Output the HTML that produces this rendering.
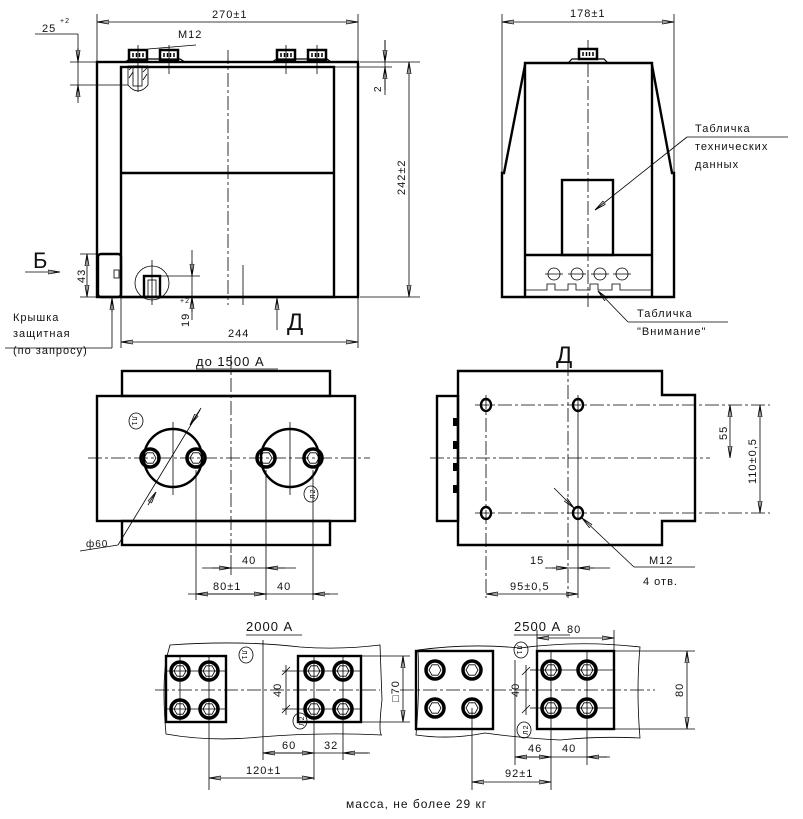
<!DOCTYPE html>
<html><head><meta charset="utf-8"><style>
html,body{margin:0;padding:0;background:#fff;width:803px;height:819px;overflow:hidden}
svg{display:block}
text{font-family:"Liberation Sans","DejaVu Sans",sans-serif;fill:#111;letter-spacing:1px}
.t{stroke:#000;stroke-width:2.4;fill:none}
.n{stroke:#000;stroke-width:0.8;fill:none}
.c{stroke:#000;stroke-width:0.8;fill:none;stroke-dasharray:14 3 3 3}
.b{stroke:#000;stroke-width:3.5;fill:none}
</style></head><body>
<svg width="803" height="819" viewBox="0 0 803 819" xmlns="http://www.w3.org/2000/svg">
<defs>
<marker id="a" viewBox="0 0 12 6" refX="12" refY="3" markerWidth="12" markerHeight="6" orient="auto-start-reverse" markerUnits="userSpaceOnUse"><path d="M0,1 L12,3 L0,5 Z" fill="none" stroke="#000" stroke-width="0.8"/></marker>
<g id="bolt"><circle r="9" class="b"/><polygon points="-6,0 -3,-5.2 3,-5.2 6,0 3,5.2 -3,5.2" class="n"/></g>
<g id="nut"><rect x="-9" y="-5" width="18" height="10" fill="#fff" stroke="#000" stroke-width="2.5"/><path d="M-5,-2v4M-1.5,-2v4M1.5,-2v4M5,-2v4" stroke="#000" stroke-width="1.5"/></g>
</defs>

<!-- ========== TOP LEFT VIEW ========== -->
<rect x="97" y="62" width="261" height="235" class="t"/>
<rect x="121" y="67" width="213" height="230" class="t"/>
<line x1="121" y1="173" x2="334" y2="173" class="t"/>
<rect x="98" y="254" width="23" height="43" class="t" rx="3" fill="#fff"/>
<line x1="228" y1="50" x2="228" y2="305" class="c"/>
<line x1="243" y1="265" x2="243" y2="305" class="n"/>
<use href="#nut" x="138" y="55"/><use href="#nut" x="169" y="55"/><use href="#nut" x="286" y="55"/><use href="#nut" x="317" y="55"/>
<path d="M125,62 L130,59 L180,59 L185,62 M272,62 L277,59 L327,59 L331,62" stroke="#000" stroke-width="1.2" fill="none"/>
<line x1="138" y1="45" x2="138" y2="92" class="n"/><line x1="169" y1="45" x2="169" y2="74" class="n"/>
<line x1="286" y1="45" x2="286" y2="74" class="n"/><line x1="317" y1="45" x2="317" y2="74" class="n"/>
<path d="M128,66 L128,85 Q138,97 148,85 L148,66 Z" class="n"/>
<rect x="133" y="66" width="9" height="20" class="n"/>
<path d="M129,70 L133,66 M129,78 L133,72 M143,72 L147,68 M143,80 L147,74" class="n"/>
<circle cx="152" cy="283" r="17" class="n"/>
<rect x="144" y="276" width="16" height="21" class="t" stroke-width="1.5"/>
<rect x="148" y="280" width="8" height="17" class="n"/>
<line x1="152" y1="260" x2="152" y2="305" class="n"/>
<rect x="114" y="270" width="5" height="8" class="n"/>
<line x1="97" y1="14" x2="97" y2="62" class="n"/><line x1="358" y1="14" x2="358" y2="62" class="n"/>
<line x1="97" y1="22" x2="358" y2="22" class="n" marker-start="url(#a)" marker-end="url(#a)"/>
<text x="212" y="18" font-size="11">270±1</text>
<text x="178" y="38" font-size="11">M12</text>
<line x1="148" y1="49" x2="196" y2="45" class="n"/>
<line x1="35" y1="34" x2="78" y2="34" class="n"/><line x1="78" y1="34" x2="78" y2="103" class="n"/>
<line x1="70" y1="62" x2="97" y2="62" class="n"/><line x1="70" y1="85" x2="128" y2="85" class="n"/>
<line x1="78" y1="48" x2="78" y2="62" class="n" marker-end="url(#a)"/><line x1="78" y1="99" x2="78" y2="85" class="n" marker-end="url(#a)"/>
<text x="42" y="32" font-size="11">25</text><text x="60" y="23" font-size="7">+2</text>
<line x1="360" y1="62" x2="420" y2="62" class="n"/><line x1="360" y1="297" x2="420" y2="297" class="n"/>
<line x1="334" y1="67" x2="392" y2="67" class="n"/>
<line x1="385" y1="40" x2="385" y2="95" class="n"/>
<line x1="385" y1="40" x2="385" y2="62" class="n" marker-end="url(#a)"/><line x1="385" y1="90" x2="385" y2="67" class="n" marker-end="url(#a)"/>
<text x="381" y="92" font-size="10" transform="rotate(-90 381 92)">2</text>
<line x1="409" y1="62" x2="409" y2="297" class="n" marker-start="url(#a)" marker-end="url(#a)"/>
<text x="405" y="195" font-size="11" transform="rotate(-90 405 195)">242±2</text>
<line x1="80" y1="254" x2="98" y2="254" class="n"/><line x1="80" y1="297" x2="150" y2="297" class="n"/>
<line x1="87" y1="254" x2="87" y2="297" class="n" marker-start="url(#a)" marker-end="url(#a)"/>
<text x="85" y="283" font-size="11" transform="rotate(-90 85 283)">43</text>
<text x="33" y="268" font-size="22">Б</text>
<line x1="25" y1="272" x2="60" y2="272" class="n" marker-end="url(#a)"/>
<line x1="192" y1="250" x2="192" y2="320" class="n"/><line x1="160" y1="276" x2="200" y2="276" class="n"/>
<line x1="192" y1="262" x2="192" y2="276" class="n" marker-end="url(#a)"/><line x1="192" y1="312" x2="192" y2="297" class="n" marker-end="url(#a)"/>
<text x="189" y="327" font-size="11" transform="rotate(-90 189 327)">19</text><text x="180" y="303" font-size="7">+2</text>
<line x1="121" y1="297" x2="121" y2="348" class="n"/><line x1="358" y1="297" x2="358" y2="348" class="n"/>
<line x1="121" y1="342" x2="358" y2="342" class="n" marker-start="url(#a)" marker-end="url(#a)"/>
<text x="228" y="337" font-size="11">244</text>
<line x1="277" y1="330" x2="277" y2="298" class="n" marker-end="url(#a)"/>
<text x="287" y="330" font-size="24">Д</text>
<line x1="112" y1="298" x2="112" y2="348" class="n"/><line x1="112" y1="298" x2="112" y2="312" class="n" marker-start="url(#a)"/>
<line x1="5" y1="348" x2="112" y2="348" class="n"/>
<text x="13" y="321" font-size="11">Крышка</text>
<text x="13" y="337" font-size="11">защитная</text>
<text x="13" y="354" font-size="11">(по запросу)</text>

<!-- ========== TOP RIGHT VIEW ========== -->
<path d="M525,63 L652,63 L652,297 L525,297 Z" class="t"/>
<path d="M525,65 L504,173 L502,173 L502,297 L525,297 M652,65 L672,173 L674,173 L674,297 L652,297" class="t"/>
<line x1="525" y1="255" x2="652" y2="255" class="t"/>
<rect x="562" y="180" width="51" height="75" class="t"/>
<line x1="588" y1="40" x2="588" y2="310" class="c"/>
<use href="#nut" x="588" y="54"/>
<path d="M568,63 L572,59 L604,59 L608,63" stroke="#000" stroke-width="1.2" fill="none"/>
<g class="n"><circle cx="554" cy="274" r="6"/><circle cx="577" cy="274" r="6"/><circle cx="600" cy="274" r="6"/><circle cx="622" cy="274" r="6"/>
<path d="M545,274h18M568,274h18M591,274h18M613,274h18"/></g>
<path d="M525,290 L547,290 L547,284 L555,284 L555,290 L568,290 L568,284 L576,284 L576,290 L590,290 L590,284 L598,284 L598,290 L612,290 L612,284 L620,284 L620,290 L652,290" class="n" stroke-width="1.5"/>
<line x1="502" y1="14" x2="502" y2="173" class="n"/><line x1="674" y1="14" x2="674" y2="173" class="n"/>
<line x1="502" y1="22" x2="674" y2="22" class="n" marker-start="url(#a)" marker-end="url(#a)"/>
<text x="570" y="17" font-size="11">178±1</text>
<text x="695" y="132" font-size="11">Табличка</text>
<text x="695" y="150" font-size="11">технических</text>
<text x="695" y="168" font-size="11">данных</text>
<line x1="788" y1="137" x2="687" y2="137" class="n"/>
<line x1="687" y1="137" x2="595" y2="210" class="n" marker-end="url(#a)"/>
<text x="637" y="317" font-size="11">Табличка</text>
<text x="637" y="335" font-size="11">"Внимание"</text>
<line x1="728" y1="322" x2="628" y2="322" class="n"/>
<line x1="628" y1="322" x2="598" y2="291" class="n" marker-end="url(#a)"/>

<!-- ========== MIDDLE LEFT ========== -->
<rect x="122" y="371" width="208" height="25" class="t"/>
<rect x="122" y="521" width="208" height="24" class="t"/>
<rect x="97" y="396" width="258" height="125" class="t" fill="#fff"/>
<line x1="231" y1="355" x2="231" y2="555" class="c"/>
<line x1="88" y1="458" x2="370" y2="458" class="c"/>
<circle cx="173" cy="458" r="29" class="t" stroke-width="1.8"/>
<circle cx="290" cy="458" r="29" class="t" stroke-width="1.8"/>
<use href="#bolt" x="150" y="458"/><use href="#bolt" x="196" y="458"/>
<use href="#bolt" x="266" y="458"/><use href="#bolt" x="313" y="458"/>
<line x1="173" y1="422" x2="173" y2="495" class="n"/><line x1="290" y1="422" x2="290" y2="495" class="n"/>
<line x1="196" y1="470" x2="196" y2="600" class="n"/><line x1="266" y1="470" x2="266" y2="600" class="n"/><line x1="313" y1="470" x2="313" y2="600" class="n"/>
<ellipse cx="136" cy="421" rx="7" ry="8" class="n"/><text x="131" y="425" font-size="7" transform="rotate(90 136 421)">Л1</text>
<ellipse cx="311" cy="494" rx="7" ry="8" class="n"/><text x="306" y="498" font-size="7" transform="rotate(-90 311 494)">Л2</text>
<line x1="200" y1="410" x2="118" y2="545" class="n"/>
<line x1="190" y1="425" x2="201" y2="408" class="n" marker-start="url(#a)"/>
<line x1="156" y1="492" x2="148" y2="505" class="n" marker-start="url(#a)"/>
<line x1="118" y1="545" x2="80" y2="551" class="n"/>
<text x="86" y="547" font-size="10">ф60</text>
<text x="196" y="366" font-size="13">до 1500 А</text><line x1="196" y1="369" x2="278" y2="369" class="n"/>
<line x1="202" y1="568" x2="296" y2="568" class="n"/>
<line x1="212" y1="568" x2="231" y2="568" class="n" marker-end="url(#a)"/><line x1="285" y1="568" x2="266" y2="568" class="n" marker-end="url(#a)"/>
<text x="242" y="564" font-size="11">40</text>
<line x1="188" y1="594" x2="338" y2="594" class="n"/>
<line x1="196" y1="594" x2="266" y2="594" class="n" marker-start="url(#a)" marker-end="url(#a)"/>
<line x1="330" y1="594" x2="313" y2="594" class="n" marker-end="url(#a)"/>
<text x="213" y="590" font-size="11">80±1</text><text x="277" y="590" font-size="11">40</text>
<line x1="231" y1="555" x2="231" y2="575" class="n"/>

<!-- ========== MIDDLE RIGHT ========== -->
<path d="M458,371 L662,371 L662,395 L695,395 L695,521 L662,521 L662,545 L458,545 Z" class="t"/>
<rect x="437" y="396" width="21" height="125" class="t"/>
<g fill="#000"><rect x="453" y="418" width="5" height="8"/><rect x="453" y="441" width="5" height="8"/><rect x="453" y="463" width="5" height="8"/><rect x="453" y="485" width="5" height="8"/></g>
<line x1="568" y1="362" x2="568" y2="598" class="c"/>
<line x1="430" y1="458" x2="710" y2="458" class="c"/>
<line x1="475" y1="405" x2="770" y2="405" class="c"/><line x1="475" y1="513" x2="770" y2="513" class="c"/>
<line x1="486" y1="395" x2="486" y2="598" class="c"/><line x1="578" y1="395" x2="578" y2="598" class="n"/>
<g class="t" stroke-width="2"><ellipse cx="486" cy="405" rx="5" ry="6"/><ellipse cx="578" cy="405" rx="5" ry="6"/><ellipse cx="486" cy="513" rx="5" ry="6"/><ellipse cx="578" cy="513" rx="5" ry="6"/></g>
<text x="556" y="363" font-size="24">Д</text>
<line x1="730" y1="405" x2="730" y2="458" class="n" marker-start="url(#a)" marker-end="url(#a)"/>
<text x="727" y="440" font-size="11" transform="rotate(-90 727 440)">55</text>
<line x1="760" y1="405" x2="760" y2="513" class="n" marker-start="url(#a)" marker-end="url(#a)"/>
<text x="756" y="484" font-size="11" transform="rotate(-90 756 484)">110±0,5</text>
<line x1="554" y1="488" x2="574" y2="508" class="n" marker-end="url(#a)"/>
<line x1="634" y1="567" x2="582" y2="518" class="n" marker-end="url(#a)"/>
<line x1="634" y1="567" x2="695" y2="567" class="n"/>
<text x="649" y="564" font-size="11">M12</text><text x="643" y="585" font-size="11">4 отв.</text>
<line x1="545" y1="568" x2="610" y2="568" class="n"/>
<line x1="552" y1="568" x2="568" y2="568" class="n" marker-end="url(#a)"/><line x1="594" y1="568" x2="578" y2="568" class="n" marker-end="url(#a)"/>
<text x="530" y="564" font-size="11">15</text>
<line x1="486" y1="594" x2="578" y2="594" class="n" marker-start="url(#a)" marker-end="url(#a)"/>
<text x="510" y="590" font-size="11">95±0,5</text>

<!-- ========== BOTTOM 2000A ========== -->
<text x="246" y="631" font-size="13">2000 А</text><line x1="246" y1="635" x2="302" y2="635" class="n"/>
<path d="M170,645 Q240,640 300,647 Q340,650 380,645 L382,700 Q378,735 382,735 Q320,732 260,737 Q210,742 166,734 Q162,690 166,660 Z" class="n"/>
<rect x="166" y="656" width="60" height="66" class="t"/>
<rect x="298" y="656" width="63" height="66" class="t"/>
<line x1="155" y1="690" x2="380" y2="690" class="c"/>
<line x1="166" y1="671" x2="226" y2="671" class="n"/><line x1="166" y1="709" x2="226" y2="709" class="n"/>
<line x1="282" y1="671" x2="361" y2="671" class="n"/><line x1="282" y1="709" x2="361" y2="709" class="n"/>
<line x1="180" y1="656" x2="180" y2="722" class="n"/><line x1="209" y1="656" x2="209" y2="790" class="n"/>
<line x1="314" y1="656" x2="314" y2="780" class="n"/><line x1="343" y1="656" x2="343" y2="760" class="n"/>
<line x1="263" y1="640" x2="263" y2="760" class="n"/>
<use href="#bolt" x="180" y="671"/><use href="#bolt" x="209" y="671"/><use href="#bolt" x="180" y="709"/><use href="#bolt" x="209" y="709"/>
<use href="#bolt" x="314" y="671"/><use href="#bolt" x="343" y="671"/><use href="#bolt" x="314" y="709"/><use href="#bolt" x="343" y="709"/>
<ellipse cx="246" cy="655" rx="7" ry="8" class="n"/><text x="241" y="659" font-size="7" transform="rotate(90 246 655)">Л1</text>
<ellipse cx="300" cy="721" rx="7" ry="8" class="n"/><text x="295" y="725" font-size="7" transform="rotate(-90 300 721)">Л2</text>
<line x1="286" y1="665" x2="286" y2="715" class="n"/>
<path d="M282,675 L290,667 M282,713 L290,705" class="n"/>
<text x="281" y="697" font-size="11" transform="rotate(-90 281 697)">40</text>
<line x1="361" y1="656" x2="410" y2="656" class="n"/><line x1="361" y1="722" x2="410" y2="722" class="n"/>
<line x1="403" y1="656" x2="403" y2="722" class="n" marker-start="url(#a)" marker-end="url(#a)"/>
<text x="399" y="702" font-size="11" transform="rotate(-90 399 702)">□70</text>
<line x1="263" y1="753" x2="370" y2="753" class="n"/>
<line x1="263" y1="753" x2="314" y2="753" class="n" marker-start="url(#a)" marker-end="url(#a)"/>
<line x1="368" y1="753" x2="343" y2="753" class="n" marker-end="url(#a)"/>
<text x="282" y="749" font-size="11">60</text><text x="324" y="749" font-size="11">32</text>
<line x1="209" y1="778" x2="314" y2="778" class="n" marker-start="url(#a)" marker-end="url(#a)"/>
<text x="246" y="774" font-size="11">120±1</text>

<!-- ========== BOTTOM 2500A ========== -->
<text x="514" y="631" font-size="13">2500 А</text><line x1="514" y1="635" x2="570" y2="635" class="n"/>
<path d="M418,650 Q470,643 520,648 Q580,640 640,647 Q636,690 640,738 Q600,736 560,740 Q520,738 485,733 Q450,740 416,735 Q420,690 418,650 Z" class="n"/>
<rect x="416" y="651" width="77" height="78" class="t"/>
<rect x="537" y="651" width="77" height="78" class="t"/>
<line x1="400" y1="690" x2="655" y2="690" class="c"/>
<line x1="537" y1="670" x2="614" y2="670" class="n"/><line x1="537" y1="708" x2="614" y2="708" class="n"/>
<line x1="530" y1="670" x2="537" y2="670" class="n"/><line x1="530" y1="708" x2="537" y2="708" class="n"/>
<line x1="551" y1="651" x2="551" y2="790" class="n"/><line x1="587" y1="651" x2="587" y2="765" class="n"/>
<line x1="472" y1="708" x2="472" y2="790" class="n"/>
<line x1="515" y1="660" x2="515" y2="765" class="n"/>
<use href="#bolt" x="435" y="670"/><use href="#bolt" x="472" y="670"/><use href="#bolt" x="435" y="708"/><use href="#bolt" x="472" y="708"/>
<use href="#bolt" x="551" y="670"/><use href="#bolt" x="587" y="670"/><use href="#bolt" x="551" y="708"/><use href="#bolt" x="587" y="708"/>
<ellipse cx="521" cy="650" rx="7" ry="8" class="n"/><text x="516" y="654" font-size="7" transform="rotate(90 521 650)">Л1</text>
<ellipse cx="524" cy="730" rx="7" ry="8" class="n"/><text x="519" y="734" font-size="7" transform="rotate(-90 524 730)">Л2</text>
<line x1="526" y1="665" x2="526" y2="715" class="n"/>
<path d="M522,675 L530,667 M522,713 L530,705" class="n"/>
<text x="519" y="697" font-size="11" transform="rotate(-90 519 697)">40</text>
<line x1="537" y1="630" x2="537" y2="651" class="n"/><line x1="614" y1="630" x2="614" y2="651" class="n"/>
<line x1="537" y1="638" x2="614" y2="638" class="n" marker-start="url(#a)" marker-end="url(#a)"/>
<text x="567" y="633" font-size="11">80</text>
<line x1="614" y1="651" x2="695" y2="651" class="n"/><line x1="614" y1="729" x2="695" y2="729" class="n"/>
<line x1="687" y1="651" x2="687" y2="729" class="n" marker-start="url(#a)" marker-end="url(#a)"/>
<text x="683" y="697" font-size="11" transform="rotate(-90 683 697)">80</text>
<line x1="515" y1="757" x2="610" y2="757" class="n"/>
<line x1="515" y1="757" x2="551" y2="757" class="n" marker-start="url(#a)" marker-end="url(#a)"/>
<line x1="607" y1="757" x2="587" y2="757" class="n" marker-end="url(#a)"/>
<text x="528" y="752" font-size="11">46</text><text x="562" y="752" font-size="11">40</text>
<line x1="472" y1="782" x2="551" y2="782" class="n" marker-start="url(#a)" marker-end="url(#a)"/>
<text x="505" y="777" font-size="11">92±1</text>

<text x="346" y="808" font-size="12">масса, не более 29 кг</text>
</svg>
</body></html>
